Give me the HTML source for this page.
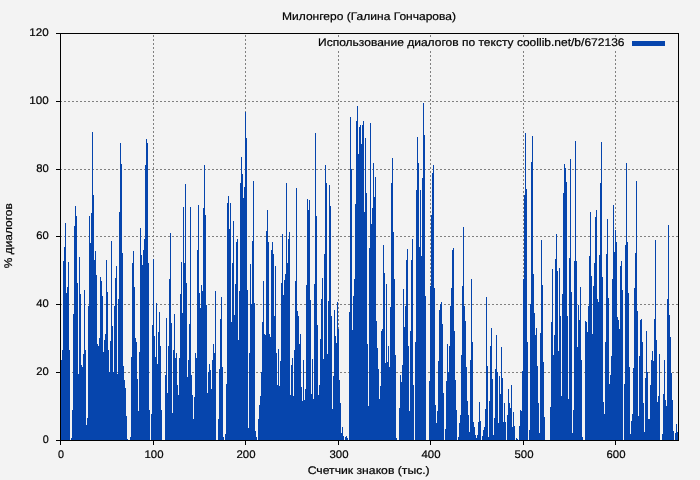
<!DOCTYPE html>
<html><head><meta charset="utf-8"><title>chart</title>
<style>html,body{margin:0;padding:0;background:#F3F3F3;}body{width:700px;height:480px;overflow:hidden;position:relative;font-family:"Liberation Sans",sans-serif;}</style>
</head><body>
<svg width="700" height="480" viewBox="0 0 700 480" shape-rendering="crispEdges" style="position:absolute;left:0;top:0;will-change:transform">
<rect width="700" height="480" fill="#F3F3F3"/>
<g stroke="#808080" stroke-width="1" stroke-dasharray="2 2" fill="none"><line x1="60" y1="372.5" x2="678" y2="372.5"/><line x1="60" y1="304.5" x2="678" y2="304.5"/><line x1="60" y1="236.5" x2="678" y2="236.5"/><line x1="60" y1="169.5" x2="678" y2="169.5"/><line x1="60" y1="101.5" x2="678" y2="101.5"/></g>
<g stroke="#808080" stroke-width="1" stroke-dasharray="2 2" fill="none"><line x1="153.5" y1="35" x2="153.5" y2="440" /><line x1="245.5" y1="35" x2="245.5" y2="440" /><line x1="338.5" y1="35" x2="338.5" y2="440" /><line x1="430.5" y1="35" x2="430.5" y2="440" /><line x1="523.5" y1="35" x2="523.5" y2="440" /><line x1="615.5" y1="35" x2="615.5" y2="440" /></g>
<rect x="316" y="38" width="362" height="13" fill="#F3F3F3"/>
<path d="M61 360h1V440h-1zM62 350h1V440h-1zM63 261h1V440h-1zM64 247h1V440h-1zM65 223h1V440h-1zM66 293h1V440h-1zM67 287h1V440h-1zM68 262h1V440h-1zM69 350h1V440h-1zM71 438h1V440h-1zM72 410h1V440h-1zM73 314h1V440h-1zM74 226h1V440h-1zM75 206h1V440h-1zM76 216h1V440h-1zM77 283h1V440h-1zM78 374h1V440h-1zM79 257h1V440h-1zM80 294h1V440h-1zM81 365h1V440h-1zM82 367h1V440h-1zM83 354h1V440h-1zM84 290h1V440h-1zM85 350h1V440h-1zM86 425h1V440h-1zM87 418h1V440h-1zM88 306h1V440h-1zM89 216h1V440h-1zM90 243h1V440h-1zM91 213h1V440h-1zM92 132h1V440h-1zM93 195h1V440h-1zM94 260h1V440h-1zM95 251h1V440h-1zM96 275h1V440h-1zM97 344h1V440h-1zM98 346h1V440h-1zM99 338h1V440h-1zM100 277h1V440h-1zM101 281h1V440h-1zM102 296h1V440h-1zM103 352h1V440h-1zM104 340h1V440h-1zM105 334h1V440h-1zM106 260h1V440h-1zM107 292h1V440h-1zM108 350h1V440h-1zM109 372h1V440h-1zM110 341h1V440h-1zM111 241h1V440h-1zM112 326h1V440h-1zM113 372h1V440h-1zM114 306h1V440h-1zM115 278h1V440h-1zM116 266h1V440h-1zM117 374h1V440h-1zM118 299h1V440h-1zM119 212h1V440h-1zM120 143h1V440h-1zM121 164h1V440h-1zM122 253h1V440h-1zM123 366h1V440h-1zM124 380h1V440h-1zM125 388h1V440h-1zM126 416h1V440h-1zM127 439h1V440h-1zM130 437h1V440h-1zM131 357h1V440h-1zM132 263h1V440h-1zM133 251h1V440h-1zM134 287h1V440h-1zM135 338h1V440h-1zM136 342h1V440h-1zM137 379h1V440h-1zM138 411h1V440h-1zM139 352h1V440h-1zM140 228h1V440h-1zM141 255h1V440h-1zM142 265h1V440h-1zM143 250h1V440h-1zM144 239h1V440h-1zM145 165h1V440h-1zM146 139h1V440h-1zM147 143h1V440h-1zM148 263h1V440h-1zM149 410h1V440h-1zM151 414h1V440h-1zM152 325h1V440h-1zM153 259h1V440h-1zM154 336h1V440h-1zM155 357h1V440h-1zM156 303h1V440h-1zM157 364h1V440h-1zM158 332h1V440h-1zM159 312h1V440h-1zM160 346h1V440h-1zM161 410h1V440h-1zM165 375h1V440h-1zM166 318h1V440h-1zM167 393h1V440h-1zM168 346h1V440h-1zM169 279h1V440h-1zM170 233h1V440h-1zM171 323h1V440h-1zM172 413h1V440h-1zM173 350h1V440h-1zM174 314h1V440h-1zM175 358h1V440h-1zM176 353h1V440h-1zM177 385h1V440h-1zM178 395h1V440h-1zM179 358h1V440h-1zM180 294h1V440h-1zM181 262h1V440h-1zM182 313h1V440h-1zM183 207h1V440h-1zM184 263h1V440h-1zM185 184h1V440h-1zM186 283h1V440h-1zM187 377h1V440h-1zM188 360h1V440h-1zM189 324h1V440h-1zM190 207h1V440h-1zM191 375h1V440h-1zM192 395h1V440h-1zM193 419h1V440h-1zM194 397h1V440h-1zM195 353h1V440h-1zM196 358h1V440h-1zM197 250h1V440h-1zM198 205h1V440h-1zM199 293h1V440h-1zM200 308h1V440h-1zM201 285h1V440h-1zM202 291h1V440h-1zM203 208h1V440h-1zM204 165h1V440h-1zM205 215h1V440h-1zM206 305h1V440h-1zM207 393h1V440h-1zM208 372h1V440h-1zM209 364h1V440h-1zM210 370h1V440h-1zM211 389h1V440h-1zM212 360h1V440h-1zM213 344h1V440h-1zM214 353h1V440h-1zM215 291h1V440h-1zM218 419h1V440h-1zM219 369h1V440h-1zM220 319h1V440h-1zM221 297h1V440h-1zM222 367h1V440h-1zM223 437h1V440h-1zM225 434h1V440h-1zM226 384h1V440h-1zM227 203h1V440h-1zM228 196h1V440h-1zM229 229h1V440h-1zM230 203h1V440h-1zM231 322h1V440h-1zM232 263h1V440h-1zM233 221h1V440h-1zM234 315h1V440h-1zM235 284h1V440h-1zM236 242h1V440h-1zM237 239h1V440h-1zM238 340h1V440h-1zM239 291h1V440h-1zM240 183h1V440h-1zM241 157h1V440h-1zM242 174h1V440h-1zM243 198h1V440h-1zM244 187h1V440h-1zM245 112h1V440h-1zM246 138h1V440h-1zM247 290h1V440h-1zM248 428h1V440h-1zM249 353h1V440h-1zM250 264h1V440h-1zM251 304h1V440h-1zM252 241h1V440h-1zM253 181h1V440h-1zM254 303h1V440h-1zM255 431h1V440h-1zM256 437h1V440h-1zM258 419h1V440h-1zM259 405h1V440h-1zM260 396h1V440h-1zM261 372h1V440h-1zM262 322h1V440h-1zM263 281h1V440h-1zM264 334h1V440h-1zM265 335h1V440h-1zM266 231h1V440h-1zM267 210h1V440h-1zM268 242h1V440h-1zM269 334h1V440h-1zM270 337h1V440h-1zM271 250h1V440h-1zM272 242h1V440h-1zM273 254h1V440h-1zM274 316h1V440h-1zM275 266h1V440h-1zM276 353h1V440h-1zM277 385h1V440h-1zM278 349h1V440h-1zM279 386h1V440h-1zM280 361h1V440h-1zM281 283h1V440h-1zM282 234h1V440h-1zM283 295h1V440h-1zM284 280h1V440h-1zM285 274h1V440h-1zM286 183h1V440h-1zM287 263h1V440h-1zM288 239h1V440h-1zM289 232h1V440h-1zM290 395h1V440h-1zM291 365h1V440h-1zM292 358h1V440h-1zM293 396h1V440h-1zM294 350h1V440h-1zM295 281h1V440h-1zM296 188h1V440h-1zM297 311h1V440h-1zM298 316h1V440h-1zM299 344h1V440h-1zM300 334h1V440h-1zM301 387h1V440h-1zM302 401h1V440h-1zM303 360h1V440h-1zM304 400h1V440h-1zM305 389h1V440h-1zM306 285h1V440h-1zM307 199h1V440h-1zM308 210h1V440h-1zM309 200h1V440h-1zM310 300h1V440h-1zM311 394h1V440h-1zM312 359h1V440h-1zM313 399h1V440h-1zM314 284h1V440h-1zM315 133h1V440h-1zM316 216h1V440h-1zM317 325h1V440h-1zM318 395h1V440h-1zM319 385h1V440h-1zM320 339h1V440h-1zM321 299h1V440h-1zM322 278h1V440h-1zM323 359h1V440h-1zM324 254h1V440h-1zM325 165h1V440h-1zM326 183h1V440h-1zM327 354h1V440h-1zM328 301h1V440h-1zM329 185h1V440h-1zM330 206h1V440h-1zM331 316h1V440h-1zM332 409h1V440h-1zM333 376h1V440h-1zM334 310h1V440h-1zM335 336h1V440h-1zM336 343h1V440h-1zM337 302h1V440h-1zM338 329h1V440h-1zM339 380h1V440h-1zM340 403h1V440h-1zM341 433h1V440h-1zM342 427h1V440h-1zM343 436h1V440h-1zM345 437h1V440h-1zM346 436h1V440h-1zM347 438h1V440h-1zM349 312h1V440h-1zM350 117h1V440h-1zM351 169h1V440h-1zM352 330h1V440h-1zM353 296h1V440h-1zM354 279h1V440h-1zM355 204h1V440h-1zM356 121h1V440h-1zM357 106h1V440h-1zM358 154h1V440h-1zM359 127h1V440h-1zM360 125h1V440h-1zM361 144h1V440h-1zM362 125h1V440h-1zM363 121h1V440h-1zM364 212h1V440h-1zM365 138h1V440h-1zM366 193h1V440h-1zM367 344h1V440h-1zM368 406h1V440h-1zM369 248h1V440h-1zM370 123h1V440h-1zM371 224h1V440h-1zM372 208h1V440h-1zM373 163h1V440h-1zM374 197h1V440h-1zM375 177h1V440h-1zM376 321h1V440h-1zM377 348h1V440h-1zM378 369h1V440h-1zM379 399h1V440h-1zM380 386h1V440h-1zM381 331h1V440h-1zM382 329h1V440h-1zM383 245h1V440h-1zM384 273h1V440h-1zM385 363h1V440h-1zM386 284h1V440h-1zM387 362h1V440h-1zM388 346h1V440h-1zM389 367h1V440h-1zM390 307h1V440h-1zM391 183h1V440h-1zM392 158h1V440h-1zM393 232h1V440h-1zM394 279h1V440h-1zM395 355h1V440h-1zM396 438h1V440h-1zM399 408h1V440h-1zM400 375h1V440h-1zM401 382h1V440h-1zM402 365h1V440h-1zM403 289h1V440h-1zM404 327h1V440h-1zM405 306h1V440h-1zM406 260h1V440h-1zM407 249h1V440h-1zM408 346h1V440h-1zM409 411h1V440h-1zM410 331h1V440h-1zM411 260h1V440h-1zM412 239h1V440h-1zM413 385h1V440h-1zM415 342h1V440h-1zM416 190h1V440h-1zM417 137h1V440h-1zM418 163h1V440h-1zM419 247h1V440h-1zM420 190h1V440h-1zM421 256h1V440h-1zM422 178h1V440h-1zM423 103h1V440h-1zM424 135h1V440h-1zM425 296h1V440h-1zM429 381h1V440h-1zM430 286h1V440h-1zM431 215h1V440h-1zM432 173h1V440h-1zM433 165h1V440h-1zM434 288h1V440h-1zM435 405h1V440h-1zM436 423h1V440h-1zM437 411h1V440h-1zM438 361h1V440h-1zM439 310h1V440h-1zM440 304h1V440h-1zM441 302h1V440h-1zM442 324h1V440h-1zM443 393h1V440h-1zM445 429h1V440h-1zM446 381h1V440h-1zM447 344h1V440h-1zM448 372h1V440h-1zM449 346h1V440h-1zM450 306h1V440h-1zM451 288h1V440h-1zM452 250h1V440h-1zM453 248h1V440h-1zM454 331h1V440h-1zM455 380h1V440h-1zM456 410h1V440h-1zM458 437h1V440h-1zM459 423h1V440h-1zM460 415h1V440h-1zM461 355h1V440h-1zM462 286h1V440h-1zM463 227h1V440h-1zM464 306h1V440h-1zM465 321h1V440h-1zM466 367h1V440h-1zM467 401h1V440h-1zM468 415h1V440h-1zM469 432h1V440h-1zM470 360h1V440h-1zM471 279h1V440h-1zM472 342h1V440h-1zM473 422h1V440h-1zM474 427h1V440h-1zM475 435h1V440h-1zM476 438h1V440h-1zM477 435h1V440h-1zM478 422h1V440h-1zM479 402h1V440h-1zM480 421h1V440h-1zM482 436h1V440h-1zM483 430h1V440h-1zM484 427h1V440h-1zM485 409h1V440h-1zM486 297h1V440h-1zM487 366h1V440h-1zM488 437h1V440h-1zM489 401h1V440h-1zM490 346h1V440h-1zM491 328h1V440h-1zM492 379h1V440h-1zM493 435h1V440h-1zM494 418h1V440h-1zM495 369h1V440h-1zM496 335h1V440h-1zM497 372h1V440h-1zM498 423h1V440h-1zM499 376h1V440h-1zM500 394h1V440h-1zM501 347h1V440h-1zM502 378h1V440h-1zM503 422h1V440h-1zM504 403h1V440h-1zM505 422h1V440h-1zM507 415h1V440h-1zM508 389h1V440h-1zM509 403h1V440h-1zM510 408h1V440h-1zM511 385h1V440h-1zM512 427h1V440h-1zM513 412h1V440h-1zM514 426h1V440h-1zM516 438h1V440h-1zM517 439h1V440h-1zM519 426h1V440h-1zM520 410h1V440h-1zM521 411h1V440h-1zM522 371h1V440h-1zM523 279h1V440h-1zM524 195h1V440h-1zM525 133h1V440h-1zM526 189h1V440h-1zM527 342h1V440h-1zM529 430h1V440h-1zM530 304h1V440h-1zM531 162h1V440h-1zM532 136h1V440h-1zM533 274h1V440h-1zM534 313h1V440h-1zM535 335h1V440h-1zM536 328h1V440h-1zM537 366h1V440h-1zM538 403h1V440h-1zM539 433h1V440h-1zM540 333h1V440h-1zM541 240h1V440h-1zM542 285h1V440h-1zM543 362h1V440h-1zM544 417h1V440h-1zM550 407h1V440h-1zM551 322h1V440h-1zM552 269h1V440h-1zM553 355h1V440h-1zM554 335h1V440h-1zM555 259h1V440h-1zM556 234h1V440h-1zM557 271h1V440h-1zM558 351h1V440h-1zM559 268h1V440h-1zM560 316h1V440h-1zM561 396h1V440h-1zM562 294h1V440h-1zM563 193h1V440h-1zM564 164h1V440h-1zM565 168h1V440h-1zM566 182h1V440h-1zM567 316h1V440h-1zM568 399h1V440h-1zM569 258h1V440h-1zM570 159h1V440h-1zM571 292h1V440h-1zM572 433h1V440h-1zM573 410h1V440h-1zM574 261h1V440h-1zM575 141h1V440h-1zM576 261h1V440h-1zM577 347h1V440h-1zM578 305h1V440h-1zM579 320h1V440h-1zM580 287h1V440h-1zM581 360h1V440h-1zM582 437h1V440h-1zM585 321h1V440h-1zM586 322h1V440h-1zM587 332h1V440h-1zM588 306h1V440h-1zM589 256h1V440h-1zM590 212h1V440h-1zM591 276h1V440h-1zM592 334h1V440h-1zM593 286h1V440h-1zM594 263h1V440h-1zM595 217h1V440h-1zM596 210h1V440h-1zM597 299h1V440h-1zM598 302h1V440h-1zM599 255h1V440h-1zM600 183h1V440h-1zM601 142h1V440h-1zM602 277h1V440h-1zM603 402h1V440h-1zM604 414h1V440h-1zM605 342h1V440h-1zM606 254h1V440h-1zM607 219h1V440h-1zM608 298h1V440h-1zM609 384h1V440h-1zM610 375h1V440h-1zM611 356h1V440h-1zM612 279h1V440h-1zM613 205h1V440h-1zM614 252h1V440h-1zM615 230h1V440h-1zM616 242h1V440h-1zM617 317h1V440h-1zM618 320h1V440h-1zM619 329h1V440h-1zM620 266h1V440h-1zM621 261h1V440h-1zM622 290h1V440h-1zM624 384h1V440h-1zM625 245h1V440h-1zM626 163h1V440h-1zM627 242h1V440h-1zM628 293h1V440h-1zM629 367h1V440h-1zM630 434h1V440h-1zM631 421h1V440h-1zM632 414h1V440h-1zM633 368h1V440h-1zM634 288h1V440h-1zM635 253h1V440h-1zM636 181h1V440h-1zM637 311h1V440h-1zM638 416h1V440h-1zM639 356h1V440h-1zM640 320h1V440h-1zM641 319h1V440h-1zM642 342h1V440h-1zM643 403h1V440h-1zM644 432h1V440h-1zM645 378h1V440h-1zM646 331h1V440h-1zM647 372h1V440h-1zM648 419h1V440h-1zM649 419h1V440h-1zM650 385h1V440h-1zM651 360h1V440h-1zM652 351h1V440h-1zM653 361h1V440h-1zM654 319h1V440h-1zM655 240h1V440h-1zM656 340h1V440h-1zM657 402h1V440h-1zM658 396h1V440h-1zM659 354h1V440h-1zM662 434h1V440h-1zM663 394h1V440h-1zM664 360h1V440h-1zM665 400h1V440h-1zM666 406h1V440h-1zM667 299h1V440h-1zM668 225h1V440h-1zM669 315h1V440h-1zM670 337h1V440h-1zM671 373h1V440h-1zM672 400h1V440h-1zM673 431h1V440h-1zM675 433h1V440h-1zM676 424h1V440h-1zM677 432h1V440h-1z" fill="#0645AD"/>
<rect x="632" y="41" width="33" height="5" fill="#0645AD"/>
<g fill="#000">
<rect x="60" y="33" width="619" height="1"/>
<rect x="60" y="440" width="619" height="1"/>
<rect x="60" y="33" width="1" height="408"/>
<rect x="678" y="33" width="1" height="408"/>
<rect x="56" y="440" width="4" height="1"/><rect x="56" y="372" width="4" height="1"/><rect x="56" y="304" width="4" height="1"/><rect x="56" y="236" width="4" height="1"/><rect x="56" y="169" width="4" height="1"/><rect x="56" y="101" width="4" height="1"/><rect x="56" y="33" width="4" height="1"/><rect x="60" y="441" width="1" height="4"/><rect x="153" y="441" width="1" height="4"/><rect x="245" y="441" width="1" height="4"/><rect x="338" y="441" width="1" height="4"/><rect x="430" y="441" width="1" height="4"/><rect x="523" y="441" width="1" height="4"/><rect x="615" y="441" width="1" height="4"/></g>
<g font-family="'Liberation Sans', sans-serif" font-size="11px" fill="#000" stroke="#000" stroke-width="0.2" shape-rendering="auto" text-rendering="geometricPrecision">
<text x="48.7" y="443" text-anchor="end" textLength="6" lengthAdjust="spacingAndGlyphs">0</text>
<text x="48.7" y="375" text-anchor="end" textLength="12.5" lengthAdjust="spacingAndGlyphs">20</text>
<text x="48.7" y="307" text-anchor="end" textLength="12.5" lengthAdjust="spacingAndGlyphs">40</text>
<text x="48.7" y="239" text-anchor="end" textLength="12.5" lengthAdjust="spacingAndGlyphs">60</text>
<text x="48.7" y="172" text-anchor="end" textLength="12.5" lengthAdjust="spacingAndGlyphs">80</text>
<text x="48.7" y="104" text-anchor="end" textLength="19.4" lengthAdjust="spacingAndGlyphs">100</text>
<text x="48.7" y="36" text-anchor="end" textLength="19.4" lengthAdjust="spacingAndGlyphs">120</text>
<text x="61" y="458" text-anchor="middle" textLength="6" lengthAdjust="spacingAndGlyphs">0</text>
<text x="154" y="458" text-anchor="middle" textLength="19" lengthAdjust="spacingAndGlyphs">100</text>
<text x="246" y="458" text-anchor="middle" textLength="19" lengthAdjust="spacingAndGlyphs">200</text>
<text x="339" y="458" text-anchor="middle" textLength="19" lengthAdjust="spacingAndGlyphs">300</text>
<text x="431" y="458" text-anchor="middle" textLength="19" lengthAdjust="spacingAndGlyphs">400</text>
<text x="524" y="458" text-anchor="middle" textLength="19" lengthAdjust="spacingAndGlyphs">500</text>
<text x="616" y="458" text-anchor="middle" textLength="19" lengthAdjust="spacingAndGlyphs">600</text>
<text x="369" y="20" text-anchor="middle" textLength="174" lengthAdjust="spacingAndGlyphs">Милонгеро (Галина Гончарова)</text>
<text x="624.5" y="46" text-anchor="end" textLength="306.5" lengthAdjust="spacingAndGlyphs">Использование диалогов по тексту coollib.net/b/672136</text>
<text x="368.7" y="474" text-anchor="middle" textLength="122" lengthAdjust="spacingAndGlyphs">Счетчик знаков (тыс.)</text>
<text transform="translate(11.8,235.7) rotate(-90)" text-anchor="middle" textLength="65" lengthAdjust="spacingAndGlyphs">% диалогов</text>
</g>
</svg>
</body></html>
